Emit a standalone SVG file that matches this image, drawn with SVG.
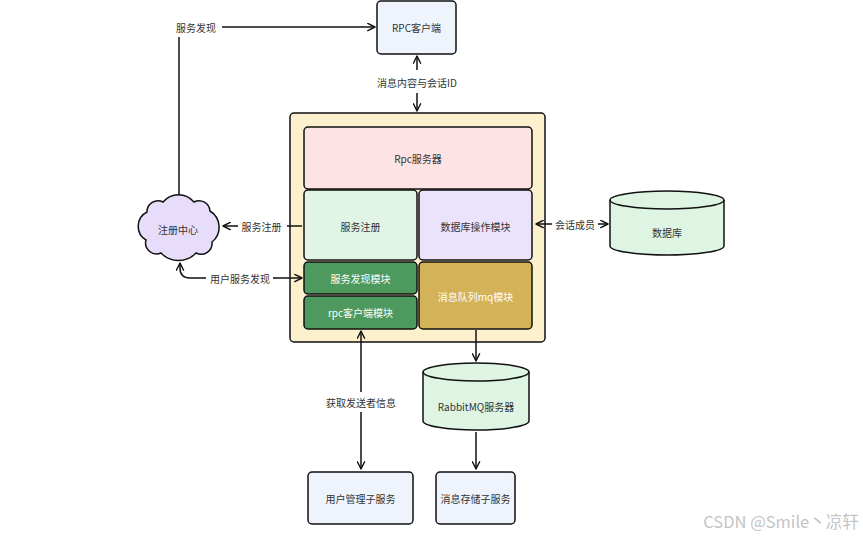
<svg xmlns="http://www.w3.org/2000/svg" width="863" height="536" viewBox="0 0 863 536">
<defs>
<marker id="arr" viewBox="0 0 10 10" refX="9" refY="5" markerWidth="9" markerHeight="9" markerUnits="userSpaceOnUse" orient="auto-start-reverse">
<path d="M1,1 L9,5 L1,9" fill="none" stroke="#111" stroke-width="1.6" stroke-linecap="round" stroke-linejoin="round"/>
</marker>
</defs>
<style>
text{font-family:"Noto Sans CJK SC","Noto Sans",sans-serif;font-size:10px;fill:#333;text-anchor:middle;dominant-baseline:central}
.w{fill:#fff}
.b{stroke:#111;stroke-width:1.5}
.c{fill:none;stroke:#111;stroke-width:1.5}
</style>
<rect width="863" height="536" fill="#fff"/>
<g id="rpc-client"><rect class="b" x="377" y="1" width="79" height="53" rx="4" fill="#eef3fc"/><text x="416.5" y="27.5">RPC客户端</text></g>
<g id="server-box"><rect class="b" x="290" y="113" width="255" height="229" rx="4" fill="#fdf1cd"/></g>
<g id="rpc-server"><rect class="b" x="304" y="127" width="228" height="62" rx="4" fill="#fde3e3"/><text x="418" y="158">Rpc服务器</text></g>
<g id="reg"><rect class="b" x="304" y="190" width="113" height="70" rx="4" fill="#e0f5e6"/><text x="360.5" y="226">服务注册</text></g>
<g id="dbop"><rect class="b" x="419" y="190" width="113" height="70" rx="4" fill="#ebe3fc"/><text x="475.5" y="226">数据库操作模块</text></g>
<g id="disc"><rect class="b" x="304" y="262" width="113" height="32" rx="4" fill="#4e9a5e"/><text class="w" x="360.5" y="278">服务发现模块</text></g>
<g id="rpcmod"><rect class="b" x="304" y="296" width="113" height="33" rx="4" fill="#4e9a5e"/><text class="w" x="360.5" y="312.5">rpc客户端模块</text></g>
<g id="mq"><rect class="b" x="419" y="262" width="113" height="67" rx="4" fill="#d4b257"/><text class="w" x="475.5" y="296">消息队列mq模块</text></g>
<g id="registry"><path class="b" fill="#e8dcfb" d="M147 212 A11 11 0 0 1 163 202 A20 20 0 0 1 194 202 A11 11 0 0 1 210 211 A19 19 0 0 1 212 242 A11 11 0 0 1 196 253 A24 24 0 0 1 161 253 A11 11 0 0 1 146 240 A16 16 0 0 1 147 212 Z"/><text x="178" y="229">注册中心</text></g>
<g id="db"><path class="b" fill="#dff5e4" d="M610 200 V246 A57 9 0 0 0 724 246 V200 A57 9 0 0 0 610 200 Z"/><path class="c" d="M610 200 A57 9 0 0 0 724 200"/><text x="667" y="232">数据库</text></g>
<g id="rabbit"><path class="b" fill="#dff5e4" d="M423 372 V421 A53 9 0 0 0 529 421 V372 A53 9 0 0 0 423 372 Z"/><path class="c" d="M423 372 A53 9 0 0 0 529 372"/><text x="476" y="406">RabbitMQ服务器</text></g>
<g id="user-svc"><rect class="b" x="308" y="472" width="105" height="52" rx="4" fill="#eef3fc"/><text x="360.5" y="498">用户管理子服务</text></g>
<g id="store-svc"><rect class="b" x="436" y="472" width="79" height="52" rx="4" fill="#eef3fc"/><text x="475.5" y="498">消息存储子服务</text></g>
<g id="connectors">
<path class="c" d="M179 195 V37"/>
<path class="c" d="M222 27 H375" marker-end="url(#arr)"/>
<text x="196" y="27">服务发现</text>
<path class="c" d="M417 70 V56" marker-end="url(#arr)"/>
<path class="c" d="M417 93 V111" marker-end="url(#arr)"/>
<text x="417" y="82">消息内容与会话ID</text>
<path class="c" d="M302 226 H287"/>
<path class="c" d="M238 226 H223" marker-end="url(#arr)"/>
<text x="261.5" y="226">服务注册</text>
<path class="c" d="M206 278 H190 Q180 278 180 268 V263" marker-end="url(#arr)"/>
<path class="c" d="M273 278 H302" marker-end="url(#arr)"/>
<text x="240" y="278">用户服务发现</text>
<path class="c" d="M552 224 H536" marker-end="url(#arr)"/>
<path class="c" d="M598 224 H608" marker-end="url(#arr)"/>
<text x="575" y="224">会话成员</text>
<path class="c" d="M476 330 V361" marker-end="url(#arr)"/>
<path class="c" d="M476 432 V469" marker-end="url(#arr)"/>
<path class="c" d="M361 392 V331" marker-end="url(#arr)"/>
<path class="c" d="M361 412 V469" marker-end="url(#arr)"/>
<text x="361" y="402">获取发送者信息</text>
</g>
<text x="781" y="521" style="font-size:16.5px;fill:#c4c4c4">CSDN @Smile丶凉轩</text>
</svg>
